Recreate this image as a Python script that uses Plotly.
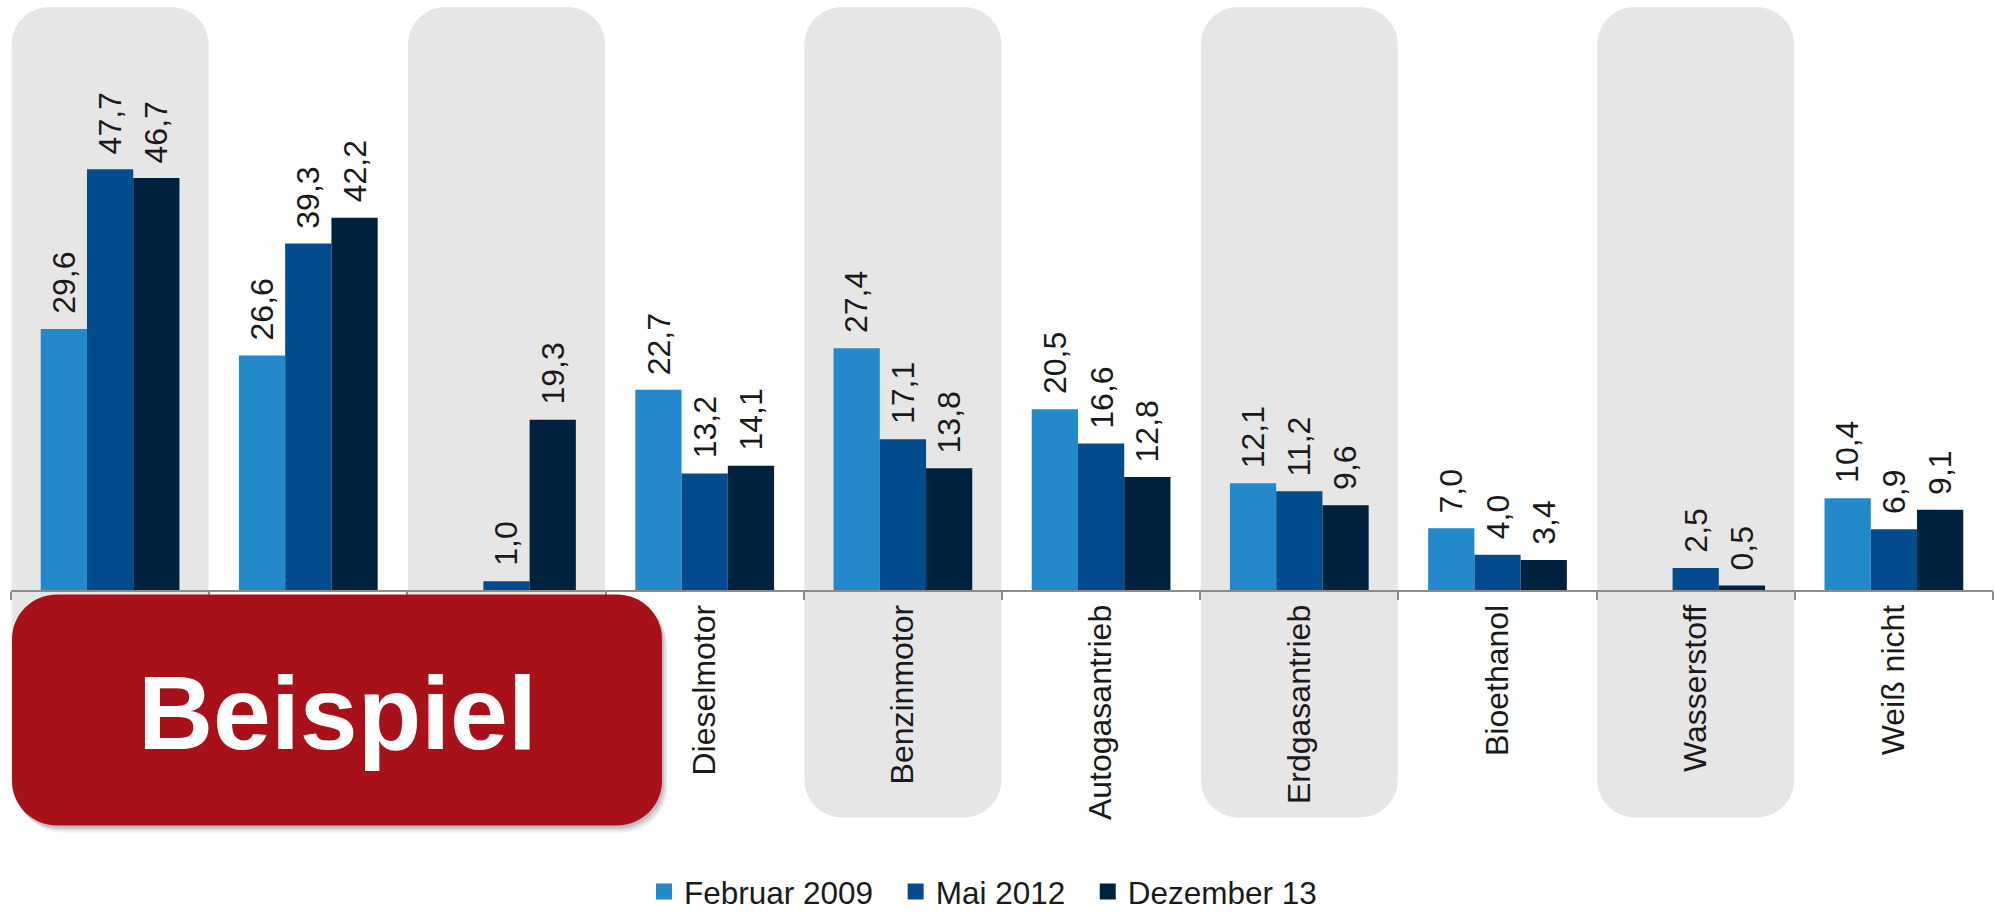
import plotly.graph_objects as go

# ---------------- data ----------------
categories = ["Elektroantrieb", "Hybridantrieb", "Brennstoffzelle", "Dieselmotor",
              "Benzinmotor", "Autogasantrieb", "Erdgasantrieb", "Bioethanol",
              "Wasserstoff", "Weiß nicht"]
series_names = ["Februar 2009", "Mai 2012", "Dezember 13"]
feb_2009 = [29.6, 26.6, None, 22.7, 27.4, 20.5, 12.1, 7.0, None, 10.4]
mai_2012 = [47.7, 39.3, 1.0, 13.2, 17.1, 16.6, 11.2, 4.0, 2.5, 6.9]
dez_13 = [46.7, 42.2, 19.3, 14.1, 13.8, 12.8, 9.6, 3.4, 0.5, 9.1]
series_values = [feb_2009, mai_2012, dez_13]
colors = ["#2389CB", "#024C8D", "#00223F"]
shaded = [0, 2, 4, 6, 8]          # categories with grey background band
badge_text = "Beispiel"

# ---------------- geometry (pixels) ----------------
W, H = 1995, 921
ML, MR, MT, MB = 11, 2, 7, 323.5
PW = W - ML - MR
PH = H - MT - MB
Y_MAX = 66.1
BARGAP = 0.30
FONT = "Liberation Sans, Arial, sans-serif"
TXT = "#1a1a1a"


def py(pix_y):
    """pixel y (from top) -> paper y"""
    return (H - MB - pix_y) / PH


def px(pix_x):
    return (pix_x - ML) / PW


def rounded(x0, x1, y0, y1, rx, ry):
    k = 0.5523
    return (f"M{x0+rx},{y0} L{x1-rx},{y0} "
            f"C{x1-rx+k*rx},{y0} {x1},{y0+ry-k*ry} {x1},{y0+ry} "
            f"L{x1},{y1-ry} "
            f"C{x1},{y1-ry+k*ry} {x1-rx+k*rx},{y1} {x1-rx},{y1} "
            f"L{x0+rx},{y1} "
            f"C{x0+rx-k*rx},{y1} {x0},{y1-ry+k*ry} {x0},{y1-ry} "
            f"L{x0},{y0+ry} "
            f"C{x0},{y0+ry-k*ry} {x0+rx-k*rx},{y0} {x0+rx},{y0} Z")


PAD = "\u00a0\u00a0"   # extra spacing between legend entries

fig = go.Figure()
for name, vals, col in zip(series_names, series_values, colors):
    fig.add_trace(go.Bar(
        x=categories, y=vals, name=name, legendgroup=name, showlegend=False,
        marker=dict(color=col, line=dict(width=0)),
        hoverinfo="skip",
    ))
# legend entries with larger square swatches
for name, col in zip(series_names, colors):
    fig.add_trace(go.Scatter(
        x=[categories[0]], y=[None], mode="markers", name=name + PAD,
        legendgroup=name, showlegend=True,
        marker=dict(symbol="square", size=16, color=col, line=dict(width=0)),
        hoverinfo="skip",
    ))

shapes = []
# grey background bands
slot_px = PW / len(categories)
r_band = 38
for j in shaded:
    shapes.append(dict(
        type="path", xref="x", yref="paper", layer="below",
        path=rounded(j - 0.497, j + 0.497, py(828), py(7),
                     r_band / slot_px, r_band / PH),
        fillcolor="#E6E6E6", line=dict(width=0),
    ))

# red badge with soft shadow
bx0, bx1, by_top, by_bot = 12, 662, 602, 836
r_box = 45
for dx, dy, op in [(5, 7, 0.06), (4, 5, 0.08), (2, 3, 0.12)]:
    shapes.append(dict(
        type="path", xref="paper", yref="paper", layer="above",
        path=rounded(px(bx0 + dx), px(bx1 + dx), py(by_bot + dy), py(by_top + dy),
                     r_box / PW, r_box / PH),
        fillcolor="black", opacity=op, line=dict(width=0),
    ))
shapes.append(dict(
    type="path", xref="paper", yref="paper", layer="above",
    path=rounded(px(bx0), px(bx1), py(by_bot), py(by_top), r_box / PW, r_box / PH),
    fillcolor="#A8111A", line=dict(width=0),
))

annotations = []
bar_w = (1 - BARGAP) / len(series_values)
for i, vals in enumerate(series_values):
    off = (i - (len(series_values) - 1) / 2) * bar_w
    for j, v in enumerate(vals):
        if v is None:
            continue
        annotations.append(dict(
            x=j + off, y=v, xref="x", yref="y",
            text=f"{v:.1f}".replace(".", ","),
            textangle=-90, showarrow=False,
            xanchor="center", yanchor="bottom", yshift=13,
            font=dict(family=FONT, size=32, color=TXT),
        ))

annotations.append(dict(
    x=px((bx0 + bx1) / 2), y=py(722), xref="paper", yref="paper",
    text=f"<b>{badge_text}</b>", showarrow=False,
    xanchor="center", yanchor="middle",
    font=dict(family=FONT, size=104, color="white"),
))

fig.update_layout(
    width=W, height=H,
    margin=dict(l=ML, r=MR, t=MT, b=MB, pad=0),
    barmode="group", bargap=BARGAP, bargroupgap=0,
    paper_bgcolor="white", plot_bgcolor="rgba(0,0,0,0)",
    font=dict(family=FONT, color=TXT),
    xaxis=dict(
        type="category", range=[-0.5, len(categories) - 0.5],
        showline=True, linecolor="#8C8C8C", linewidth=2,
        ticks="outside", tickson="boundaries", ticklen=8,
        tickcolor="#8C8C8C", tickwidth=2,
        tickangle=-90, tickfont=dict(family=FONT, size=32, color=TXT),
        showgrid=False, zeroline=False,
    ),
    yaxis=dict(range=[0, Y_MAX], visible=False, showgrid=False, zeroline=False),
    legend=dict(
        orientation="h", x=px(644), xanchor="left",
        y=py(903), yanchor="middle", itemsizing="trace",
        font=dict(family=FONT, size=31.5, color=TXT),
        bgcolor="rgba(0,0,0,0)",
    ),
    shapes=shapes,
    annotations=annotations,
    showlegend=True,
)

fig.write_html("out.html",
               config={"displayModeBar": False},
               post_script="document.body.style.margin='0';"
                           "document.body.style.overflow='hidden';")
